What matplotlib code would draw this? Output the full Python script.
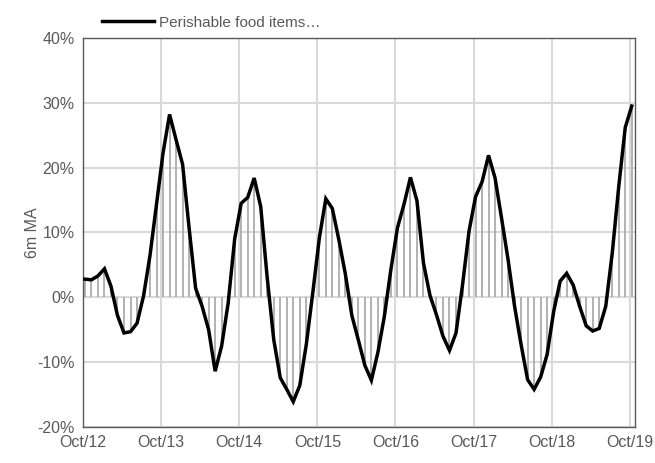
import matplotlib
matplotlib.use('Agg')
import matplotlib.pyplot as plt
import matplotlib.ticker as mticker
import numpy as np

# Monthly 6m moving average, Oct/12 .. Oct/19 (%)
values = [
    2.8, 2.7, 3.3, 4.4, 1.7, -2.8, -5.5, -5.3, -4.0, 0.2, 6.5, 14.4,
    22.3, 28.2, 24.3, 20.5, 10.7, 1.4, -1.4, -5.0, -11.4, -7.5, -0.9, 9.0,
    14.5, 15.4, 18.4, 14.0, 3.0, -6.5, -12.4, -14.2, -16.1, -13.6, -7.3, 0.7,
    9.1, 15.2, 13.7, 8.9, 3.6, -2.8, -6.6, -10.5, -12.8, -8.5, -2.9, 4.3,
    10.7, 14.3, 18.5, 14.9, 5.3, 0.3, -2.7, -6.0, -8.2, -5.5, 1.9, 10.2,
    15.5, 17.8, 21.9, 18.4, 12.2, 5.8, -1.4, -7.3, -12.7, -14.2, -12.3, -8.8,
    -2.2, 2.5, 3.7, 1.9, -1.4, -4.4, -5.2, -4.8, -1.4, 6.8, 17.1, 26.2,
    29.5,
]
tick_labels = ['Oct/12', 'Oct/13', 'Oct/14', 'Oct/15', 'Oct/16', 'Oct/17', 'Oct/18', 'Oct/19']
series_name = 'Perishable food items\u2026'

TEXT_COLOR = '#595959'
GRID_COLOR = '#d9d9d9'
DROP_COLOR = '#a6a6a6'
FS = 11.5

plt.rcParams['font.family'] = ['Liberation Sans Narrow', 'Liberation Sans', 'DejaVu Sans']

fig = plt.figure(figsize=(6.55, 4.63), dpi=100)
ax = fig.add_axes([0.1267, 0.0778, 0.8428, 0.8402])

y = np.array(values) / 100.0
x = np.arange(len(y)) + 0.3

# drop lines from zero to each monthly value
ax.vlines(x, 0, y, color=DROP_COLOR, linewidth=1.2, zorder=2)
ax.plot(x, y, color='black', linewidth=2.5, solid_joinstyle='miter', zorder=3,
        label=series_name)

ax.set_ylim(-0.2, 0.4)
ax.set_xlim(0, len(y) - 0.2)
ax.yaxis.set_major_locator(mticker.MultipleLocator(0.1))
ax.yaxis.set_major_formatter(mticker.FuncFormatter(lambda v, _: f'{v * 100:.0f}%'))
ax.set_xticks(np.arange(len(tick_labels)) * 12)
ax.set_xticklabels(tick_labels)

ax.grid(True, color=GRID_COLOR, linewidth=1.5, zorder=0)
ax.set_axisbelow(True)
ax.tick_params(length=0, labelsize=FS, colors=TEXT_COLOR, pad=6)
for s in ax.spines.values():
    s.set_color(TEXT_COLOR)
    s.set_linewidth(1.0)

ax.set_ylabel('6m MA', fontsize=FS, color=TEXT_COLOR, labelpad=-2)

leg = ax.legend(loc='lower left', bbox_to_anchor=(0.02, 1.0), frameon=False,
                fontsize=11, handlelength=3.4, handletextpad=0.3,
                borderaxespad=0.15)
for t in leg.get_texts():
    t.set_color(TEXT_COLOR)

fig.savefig('out.png', dpi=100)
